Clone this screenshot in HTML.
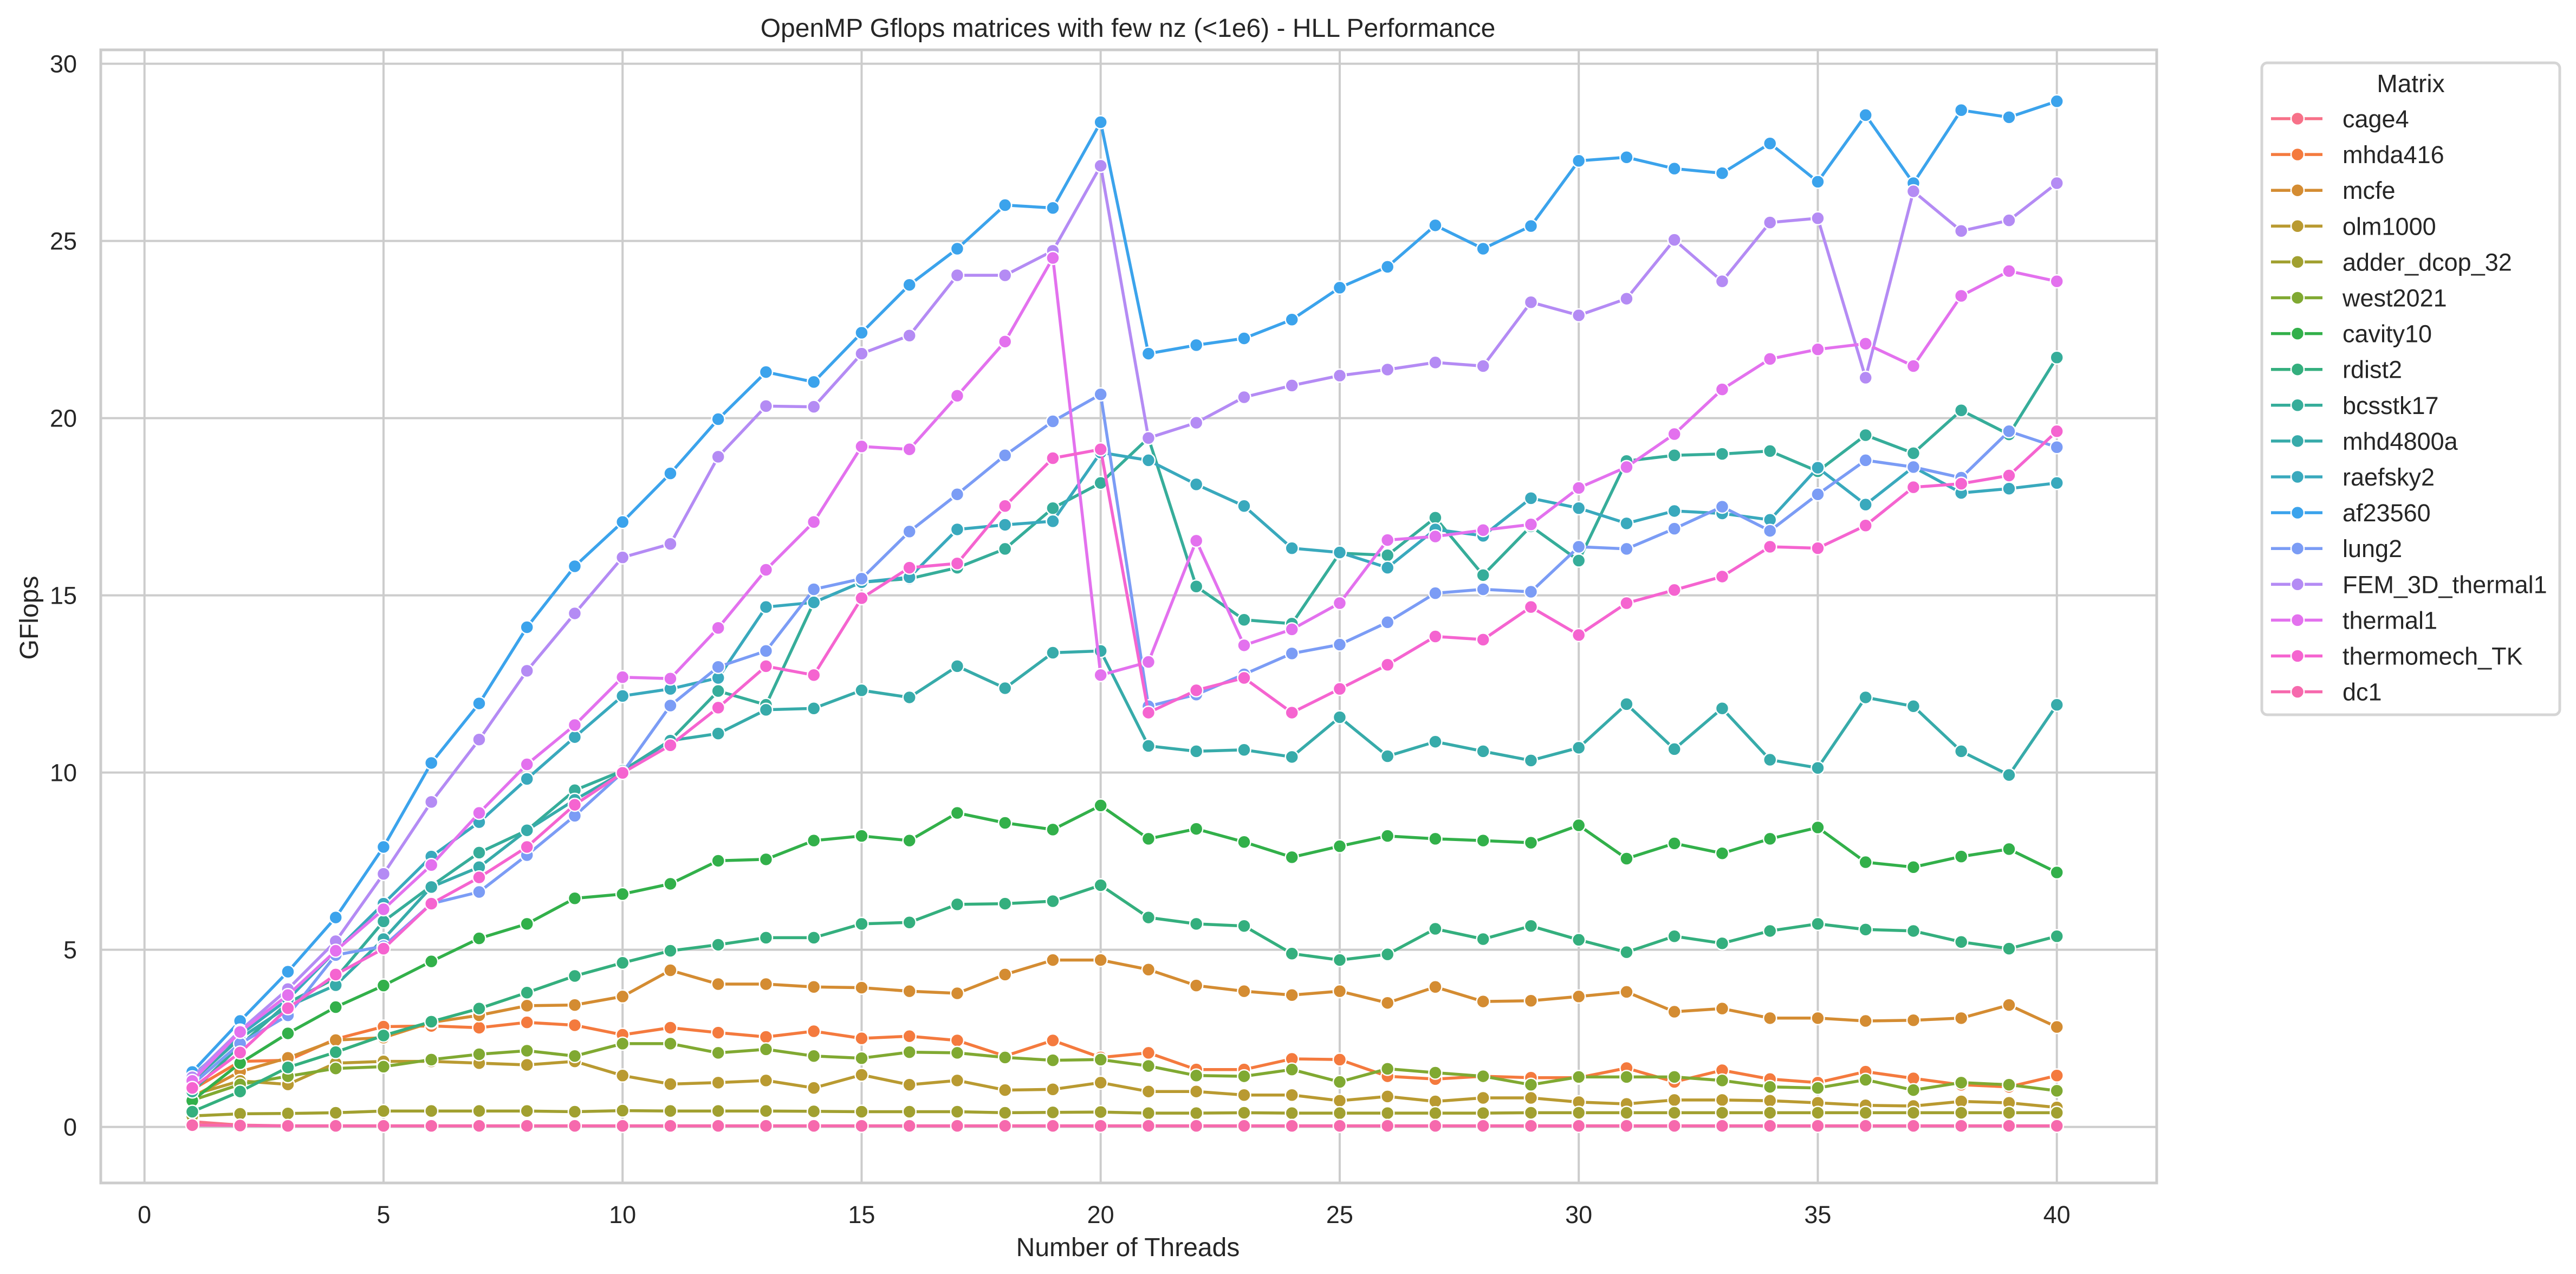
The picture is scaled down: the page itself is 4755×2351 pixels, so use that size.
<!DOCTYPE html>
<html><head><meta charset="utf-8"><title>OpenMP Gflops - HLL Performance</title>
<style>html,body{margin:0;padding:0;background:#fff;}svg{display:block;}</style></head>
<body>
<svg id="chart" xmlns="http://www.w3.org/2000/svg" width="4755" height="2351" viewBox="0 0 4755 2351" font-family="Liberation Sans, Arial, sans-serif">
<rect x="0" y="0" width="4755" height="2351" fill="#fff"/>
<g id="grid"></g>
<rect x="186" y="92" width="3795" height="2091" fill="none" stroke="#cccccc" stroke-width="5"/>
<g id="series"></g>
<g id="ticks" fill="#262626" font-size="45"></g>
<text x="2082" y="68" text-anchor="middle" font-size="48" fill="#262626">OpenMP Gflops matrices with few nz (&lt;1e6) - HLL Performance</text>
<text x="2082" y="2318" text-anchor="middle" font-size="48" fill="#262626">Number of Threads</text>
<text transform="translate(70,1140) rotate(-90)" text-anchor="middle" font-size="48" fill="#262626">GFlops</text>
<g id="legend">
<rect x="4175" y="116" width="550" height="1203" rx="10" fill="#fff" stroke="#d5d5d5" stroke-width="5"/>
<text x="4450" y="170" text-anchor="middle" font-size="46" fill="#262626">Matrix</text>
</g>
</svg>
<script>
const threads = [1,2,3,4,5,6,7,8,9,10,11,12,13,14,15,16,17,18,19,20,21,22,23,24,25,26,27,28,29,30,31,32,33,34,35,36,37,38,39,40];
const xTicks = [0,5,10,15,20,25,30,35,40];
const yTicks = [0,5,10,15,20,25,30];
const seriesNames = ["cage4","mhda416","mcfe","olm1000","adder_dcop_32","west2021","cavity10","rdist2","bcsstk17","mhd4800a","raefsky2","af23560","lung2","FEM_3D_thermal1","thermal1","thermomech_TK","dc1"];
const seriesColors = ["#f77189","#f47a3e","#d48c32","#b99a31","#a1a030","#80a932","#32b04a","#34af7e","#36ad9a","#37abaa","#39a9bd","#3ba3ec","#7b9cf5","#b48bf4","#e371ee","#f564d0","#f669ad"];
const cage4 = [0.15,0.05,0.03,0.03,0.03,0.03,0.03,0.03,0.03,0.03,0.03,0.03,0.03,0.03,0.03,0.03,0.03,0.03,0.03,0.03,0.03,0.03,0.03,0.03,0.03,0.03,0.03,0.03,0.03,0.03,0.03,0.03,0.03,0.03,0.03,0.03,0.03,0.03,0.03,0.03];
const mhda416 = [1.05,1.85,1.88,2.48,2.83,2.85,2.8,2.95,2.87,2.6,2.8,2.66,2.54,2.7,2.5,2.56,2.44,2.0,2.44,1.96,2.09,1.62,1.62,1.92,1.9,1.43,1.35,1.43,1.39,1.39,1.66,1.27,1.6,1.35,1.25,1.56,1.37,1.19,1.13,1.45];
const mcfe = [0.85,1.56,1.95,2.45,2.52,2.95,3.15,3.42,3.44,3.68,4.42,4.03,4.03,3.95,3.93,3.83,3.77,4.3,4.71,4.71,4.44,3.99,3.83,3.72,3.83,3.5,3.95,3.54,3.56,3.68,3.81,3.25,3.34,3.07,3.07,2.99,3.01,3.07,3.44,2.82];
const olm1000 = [0.9,1.3,1.2,1.8,1.85,1.85,1.8,1.75,1.85,1.45,1.21,1.25,1.31,1.1,1.47,1.19,1.31,1.04,1.06,1.25,1.0,1.0,0.9,0.9,0.74,0.86,0.72,0.82,0.82,0.7,0.65,0.76,0.76,0.74,0.68,0.61,0.59,0.72,0.68,0.55];
const adder_dcop_32 = [0.31,0.37,0.38,0.4,0.45,0.45,0.45,0.45,0.43,0.46,0.45,0.45,0.45,0.44,0.43,0.43,0.43,0.4,0.41,0.42,0.39,0.39,0.4,0.39,0.39,0.39,0.39,0.39,0.4,0.4,0.4,0.4,0.4,0.4,0.4,0.4,0.4,0.4,0.4,0.4];
const west2021 = [0.75,1.2,1.43,1.65,1.7,1.9,2.05,2.15,2.0,2.35,2.35,2.09,2.19,2.0,1.94,2.11,2.09,1.96,1.88,1.9,1.72,1.45,1.43,1.62,1.27,1.64,1.53,1.43,1.19,1.41,1.41,1.41,1.31,1.13,1.1,1.33,1.04,1.25,1.19,1.02];
const cavity10 = [0.74,1.8,2.64,3.38,3.99,4.67,5.32,5.73,6.45,6.57,6.86,7.51,7.55,8.08,8.21,8.08,8.86,8.58,8.39,9.07,8.13,8.41,8.04,7.61,7.92,8.21,8.13,8.08,8.02,8.51,7.57,8.0,7.72,8.13,8.45,7.47,7.33,7.63,7.84,7.18];
const rdist2 = [0.43,1.0,1.68,2.11,2.58,2.97,3.34,3.79,4.26,4.63,4.97,5.14,5.34,5.34,5.73,5.77,6.28,6.3,6.37,6.82,5.91,5.73,5.67,4.89,4.71,4.87,5.59,5.3,5.67,5.28,4.93,5.38,5.18,5.53,5.73,5.57,5.53,5.22,5.03,5.38];
const bcsstk17 = [1.0,2.3,3.5,4.2,5.8,6.8,7.74,8.37,9.5,10.05,10.91,12.3,11.91,14.8,15.37,15.47,15.78,16.31,17.46,18.17,19.44,15.25,14.31,14.2,16.19,16.13,17.19,15.57,16.95,15.98,18.79,18.95,18.99,19.07,18.5,19.52,19.01,20.22,19.54,21.71];
const mhd4800a = [1.3,2.5,3.4,4.0,5.3,6.77,7.33,8.37,9.23,10.0,10.9,11.1,11.77,11.81,12.32,12.12,13.0,12.38,13.38,13.43,10.75,10.6,10.64,10.44,11.56,10.46,10.87,10.6,10.34,10.7,11.93,10.66,11.81,10.36,10.13,12.12,11.87,10.6,9.93,11.91];
const raefsky2 = [1.45,2.6,3.6,4.97,6.3,7.63,8.6,9.82,11.0,12.16,12.36,12.67,14.67,14.8,15.37,15.51,16.86,16.99,17.09,19.03,18.81,18.13,17.52,16.33,16.21,15.78,16.86,16.68,17.74,17.46,17.03,17.38,17.31,17.13,18.6,17.56,18.62,17.89,18.01,18.17];
const af23560 = [1.55,2.99,4.38,5.91,7.9,10.27,11.95,14.1,15.82,17.07,18.44,19.97,21.3,21.02,22.41,23.76,24.78,26.01,25.93,28.35,21.82,22.06,22.25,22.78,23.68,24.27,25.44,24.78,25.42,27.26,27.36,27.04,26.91,27.75,26.67,28.55,26.63,28.69,28.49,28.94];
const lung2 = [1.2,2.35,3.15,4.85,5.1,6.3,6.63,7.67,8.78,10.0,11.89,12.98,13.43,15.17,15.47,16.8,17.85,18.95,19.91,20.67,11.87,12.2,12.77,13.36,13.61,14.24,15.06,15.17,15.1,16.37,16.31,16.88,17.5,16.82,17.85,18.81,18.62,18.32,19.63,19.18];
const FEM_3D_thermal1 = [1.4,2.72,3.89,5.24,7.14,9.17,10.93,12.87,14.49,16.07,16.45,18.91,20.34,20.32,21.82,22.33,24.03,24.03,24.72,27.12,19.44,19.87,20.59,20.92,21.2,21.37,21.57,21.47,23.27,22.9,23.37,25.03,23.86,25.52,25.64,21.14,26.4,25.28,25.58,26.63];
const thermal1 = [1.3,2.68,3.72,4.97,6.14,7.39,8.86,10.23,11.34,12.69,12.65,14.08,15.72,17.07,19.2,19.12,20.63,22.16,24.52,12.75,13.12,16.54,13.59,14.04,14.78,16.56,16.66,16.84,17.0,18.03,18.62,19.55,20.81,21.67,21.94,22.1,21.47,23.45,24.15,23.86];
const thermomech_TK = [1.1,2.1,3.35,4.3,5.03,6.3,7.04,7.9,9.09,9.99,10.77,11.83,13.0,12.75,14.92,15.78,15.9,17.52,18.87,19.12,11.69,12.32,12.67,11.69,12.36,13.04,13.84,13.75,14.67,13.88,14.78,15.15,15.53,16.37,16.33,16.97,18.05,18.15,18.38,19.63];
const dc1 = [0.05,0.04,0.03,0.03,0.03,0.03,0.03,0.03,0.03,0.03,0.03,0.03,0.03,0.03,0.03,0.03,0.03,0.03,0.03,0.03,0.03,0.03,0.03,0.03,0.03,0.03,0.03,0.03,0.03,0.03,0.03,0.03,0.03,0.03,0.03,0.03,0.03,0.03,0.03,0.03];
const seriesValues = [cage4,mhda416,mcfe,olm1000,adder_dcop_32,west2021,cavity10,rdist2,bcsstk17,mhd4800a,raefsky2,af23560,lung2,FEM_3D_thermal1,thermal1,thermomech_TK,dc1];

const NS = "http://www.w3.org/2000/svg";
const X0 = 266.7, XS = 88.25;
const Y0 = 2079.6, YS = 65.4;
function xScale(v){ return X0 + v*XS; }
function yScale(v){ return Y0 - v*YS; }
function mk(tag, attrs, parent){
  const e = document.createElementNS(NS, tag);
  for (const k in attrs) e.setAttribute(k, attrs[k]);
  parent.appendChild(e);
  return e;
}
const grid = document.getElementById('grid');
const ticks = document.getElementById('ticks');
xTicks.forEach(function(t){
  const l = mk('line', {x1:xScale(t), x2:xScale(t), y1:92, y2:2183, stroke:'#cccccc', 'stroke-width':4}, grid);
  
  
  const tx = mk('text', {x:xScale(t), y:2257, 'text-anchor':'middle'}, ticks);
  tx.textContent = String(t);
  
  
});
yTicks.forEach(function(t){
  const l = mk('line', {x1:186, x2:3981, y1:yScale(t), y2:yScale(t), stroke:'#cccccc', 'stroke-width':4}, grid);
  
  
  const tx = mk('text', {x:142, y:yScale(t)+16, 'text-anchor':'end'}, ticks);
  tx.textContent = String(t);
  
  
});
const seriesLayer = document.getElementById('series');
seriesValues.forEach(function(vals, si){
  const col = seriesColors[si];
  const g = mk('g', {}, seriesLayer);
  
  
  const pts = vals.map(function(v, i){ return xScale(threads[i]).toFixed(1) + ',' + yScale(v).toFixed(1); }).join(' ');
  const pl = mk('polyline', {points:pts, fill:'none', stroke:col, 'stroke-width':5.5, 'stroke-linejoin':'round'}, g);
  
  
  vals.forEach(function(v, i){
    const c = mk('circle', {cx:xScale(threads[i]), cy:yScale(v), r:12, fill:col, stroke:'#ffffff', 'stroke-width':2.5}, g);
    
    
  });
});
const legend = document.getElementById('legend');
seriesNames.forEach(function(name, si){
  const y = 219 + si*66.1;
  const col = seriesColors[si];
  const g = mk('g', {}, legend);
  
  
  mk('line', {x1:4192, x2:4287, y1:y, y2:y, stroke:col, 'stroke-width':5.5}, g);
  mk('circle', {cx:4241, cy:y, r:12, fill:col, stroke:'#ffffff', 'stroke-width':2.5}, g);
  const t = mk('text', {x:4324, y:y+16, 'font-size':45, fill:'#262626'}, g);
  t.textContent = name;
});
</script>
</body></html>
